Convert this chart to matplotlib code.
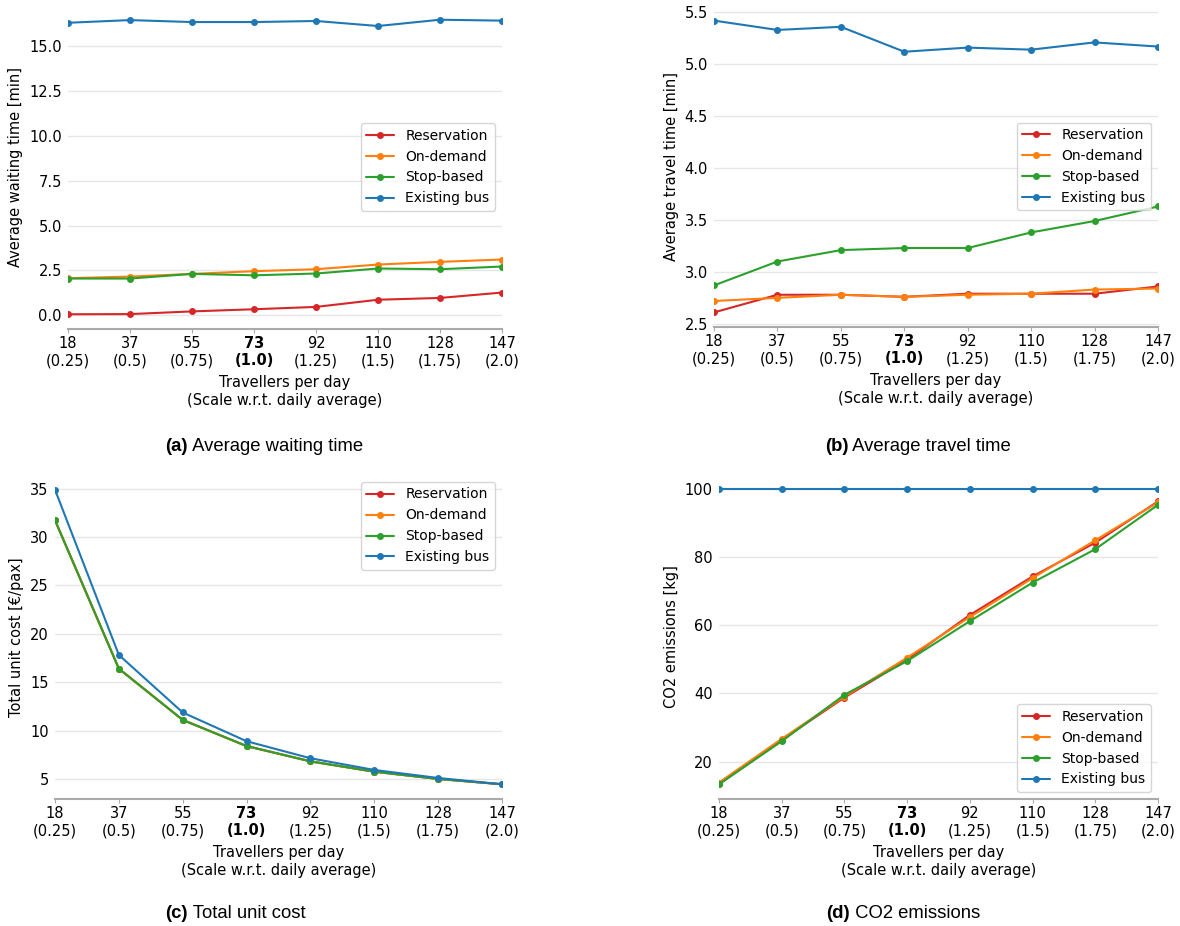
import matplotlib
matplotlib.use('Agg')
import matplotlib.pyplot as plt
import seaborn as sns

sns.set_style('whitegrid')
plt.rcParams['font.family'] = ['DejaVu Sans']
plt.rcParams.update({'text.color': 'black', 'axes.labelcolor': 'black',
                     'xtick.color': 'black', 'ytick.color': 'black'})

travellers = [18, 37, 55, 73, 92, 110, 128, 147]
scales = ['0.25', '0.5', '0.75', '1.0', '1.25', '1.5', '1.75', '2.0']
series_names = ['Reservation', 'On-demand', 'Stop-based', 'Existing bus']
colors = ['#d62728', '#ff7f0e', '#2ca02c', '#1f77b4']

# average waiting time [min]
wait_reservation = [0.06, 0.07, 0.22, 0.34, 0.47, 0.87, 0.97, 1.27]
wait_ondemand = [2.07, 2.16, 2.31, 2.46, 2.57, 2.83, 2.98, 3.11]
wait_stopbased = [2.05, 2.05, 2.31, 2.23, 2.33, 2.61, 2.57, 2.72]
wait_bus = [16.30, 16.45, 16.34, 16.34, 16.40, 16.12, 16.47, 16.42]

# average travel time [min]
travel_reservation = [2.61, 2.78, 2.78, 2.76, 2.79, 2.79, 2.79, 2.86]
travel_ondemand = [2.72, 2.75, 2.78, 2.76, 2.78, 2.79, 2.83, 2.84]
travel_stopbased = [2.87, 3.10, 3.21, 3.23, 3.23, 3.38, 3.49, 3.63]
travel_bus = [5.42, 5.33, 5.36, 5.12, 5.16, 5.14, 5.21, 5.17]

# total unit cost [EUR/pax]
cost_reservation = [31.75, 16.4, 11.1, 8.4, 6.82, 5.75, 5.0, 4.45]
cost_ondemand = [31.75, 16.4, 11.1, 8.4, 6.82, 5.75, 5.0, 4.45]
cost_stopbased = [31.75, 16.4, 11.1, 8.4, 6.82, 5.75, 5.0, 4.45]
cost_bus = [34.9, 17.82, 11.87, 8.9, 7.14, 5.93, 5.10, 4.45]

# CO2 emissions [kg]
co2_reservation = [13.4, 26.4, 38.8, 49.9, 63.0, 74.3, 84.2, 96.3]
co2_ondemand = [13.9, 26.7, 39.1, 50.5, 62.4, 73.8, 84.9, 96.0]
co2_stopbased = [13.4, 26.0, 39.6, 49.5, 61.2, 72.5, 82.3, 95.3]
co2_bus = [100, 100, 100, 100, 100, 100, 100, 100]

W, H = 1180, 926
fig = plt.figure(figsize=(W / 100, H / 100), dpi=100)


def add_panel(x0, x1, y0, y1):
    return fig.add_axes([x0 / W, 1 - y1 / H, (x1 - x0) / W, (y1 - y0) / H])


def draw(ax, data, ylabel, legend_loc):
    xs = list(range(len(travellers)))
    for values, name, c in zip(data, series_names, colors):
        ax.plot(xs, values, '-o', color=c, label=name, lw=1.5, ms=4)
    ax.set_xlim(0, len(travellers) - 1)
    ax.set_xticks(xs)
    ax.set_xticklabels([f'{t}\n({s})' for t, s in zip(travellers, scales)], fontsize=10.5)
    ax.get_xticklabels()[3].set_fontweight('bold')
    ax.tick_params(axis='y', labelsize=10.5, length=0, pad=4.5)
    ax.tick_params(axis='x', bottom=True, length=3, color='#aaaaaa', pad=2)
    ax.grid(axis='x', visible=False)
    ax.grid(axis='y', color='#e6e6e6', lw=1)
    sns.despine(ax=ax, left=True)
    ax.spines['bottom'].set_color('#aaaaaa')
    ax.spines['bottom'].set_linewidth(1.5)
    ax.set_ylabel(ylabel, fontsize=10.5)
    ax.set_xlabel('Travellers per day\n(Scale w.r.t. daily average)', fontsize=10.5, labelpad=5)
    ax.legend(loc=legend_loc, fontsize=10, frameon=True)
    return ax


ax_a = add_panel(68, 502, 5, 329)
draw(ax_a, [wait_reservation, wait_ondemand, wait_stopbased, wait_bus],
     'Average waiting time [min]', 'center right')

ax_b = add_panel(714, 1158, 6, 327)
draw(ax_b, [travel_reservation, travel_ondemand, travel_stopbased, travel_bus],
     'Average travel time [min]', 'center right')

ax_c = add_panel(55, 502, 475, 799)
draw(ax_c, [cost_reservation, cost_ondemand, cost_stopbased, cost_bus],
     'Total unit cost [€/pax]', 'upper right')

ax_d = add_panel(719, 1158, 474, 799)
draw(ax_d, [co2_reservation, co2_ondemand, co2_stopbased, co2_bus],
     'CO2 emissions [kg]', 'lower right')

# subfigure captions: bold key followed by plain text
captions = [(165, 446, '(a)', 'Average waiting time'),
            (825, 446, '(b)', 'Average travel time'),
            (165, 914, '(c)', 'Total unit cost'),
            (826, 914, '(d)', 'CO2 emissions')]
renderer = fig.canvas.get_renderer()
for cx, cy, key, text in captions:
    k = fig.text(cx / W, 1 - cy / H, key, ha='left', va='center', fontsize=13.3,
                 family='Liberation Sans', fontweight='bold')
    bb = k.get_window_extent(renderer)
    fig.text(bb.x1 / W, 1 - cy / H, ' ' + text, ha='left', va='center', fontsize=13.3,
             family='Liberation Sans')

fig.savefig('out.png', dpi=100)
